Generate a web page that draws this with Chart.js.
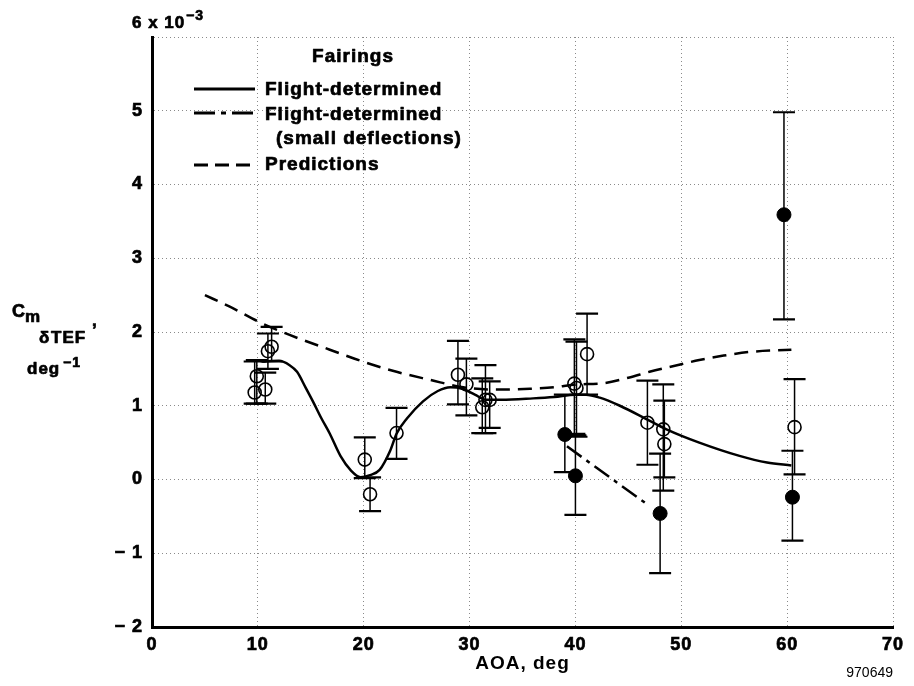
<!DOCTYPE html>
<html><head><meta charset="utf-8">
<script src="https://cdn.jsdelivr.net/npm/chart.js@4.4.1/dist/chart.umd.min.js"></script>
<style>html,body{margin:0;padding:0;background:#fff;}canvas{display:block;}</style>
</head><body>
<canvas id="c" width="914" height="686"></canvas>
<script>
// ---- data ----
const xTicks = [0, 10, 20, 30, 40, 50, 60, 70];
const yTicks = [-2, -1, 0, 1, 2, 3, 4, 5, 6];

// Flight-determined fit (solid)
const fitX = [10.4, 12.0, 13.0, 13.7, 14.5, 15.2, 16.0, 16.8, 17.8, 18.8, 19.7, 20.6, 21.5, 22.5, 23.1, 24.1, 25.6, 27.0, 28.2, 29.3, 30.5, 31.6, 33, 36, 38, 40, 41, 42.3, 44.2, 46.7, 48.6, 51.7, 55.5, 58.1, 60.4];
const fitY = [1.60, 1.61, 1.55, 1.46, 1.25, 1.06, 0.83, 0.62, 0.32, 0.12, 0.03, 0.06, 0.13, 0.39, 0.62, 0.83, 1.06, 1.20, 1.25, 1.23, 1.15, 1.08, 1.08, 1.10, 1.12, 1.15, 1.15, 1.11, 1.00, 0.82, 0.68, 0.50, 0.32, 0.23, 0.19];

// Flight-determined, small deflections fit (dash-dot)
const smallX = [39.2, 47.0];
const smallY = [0.45, -0.36];

// Predictions (dashed)
const predX = [5, 7.4, 10.5, 13, 16.8, 19.9, 23.1, 26.3, 29.4, 32.6, 35.7, 38, 40.1, 42.3, 45, 47, 49.9, 51.7, 54, 56.5, 60.4];
const predY = [2.50, 2.34, 2.11, 1.96, 1.76, 1.60, 1.46, 1.35, 1.25, 1.22, 1.23, 1.25, 1.29, 1.30, 1.38, 1.46, 1.56, 1.62, 1.68, 1.73, 1.76];

// Open symbols (fairings, flight-determined) with error bars
const openX  = [9.7, 9.9, 10.7, 10.95, 11.3, 20.1, 20.6, 23.1, 28.9, 29.7, 31.2, 31.5, 31.9, 39.9, 40.1, 41.1, 46.8, 48.3, 48.4, 60.7];
const openY  = [1.18, 1.40, 1.22, 1.74, 1.80, 0.27, -0.20, 0.63, 1.42, 1.29, 0.98, 1.08, 1.08, 1.30, 1.24, 1.70, 0.77, 0.68, 0.48, 0.71];
const openLo = [1.03, 1.03, 1.03, 1.50, 1.60, 0.02, -0.43, 0.28, 1.02, 0.87, 0.63, 0.63, 0.70, 0.62, 0.58, 1.15, 0.20, -0.15, 0.03, 0.07];
const openHi = [1.60, 1.62, 1.45, 1.98, 2.07, 0.57, 0.03, 0.97, 1.88, 1.64, 1.37, 1.55, 1.33, 1.90, 1.87, 2.25, 1.34, 1.29, 1.07, 1.36];

// Filled symbols (small deflections) with error bars
const fillX  = [39.0, 40.0, 48.0, 59.7, 60.5];
const fillY  = [0.61, 0.05, -0.46, 3.59, -0.24];
const fillLo = [0.10, -0.48, -1.27, 2.17, -0.83];
const fillHi = [1.15, 0.60, 0.35, 4.98, 0.39];

const FONT = "'Liberation Sans', Arial, Helvetica, sans-serif";
const pts = (xs, ys) => xs.map((v, i) => ({x: v, y: ys[i]}));

const errorBars = {
  id: 'errorBars',
  beforeDraw(chart) { chart.ctx.letterSpacing = '1px'; },
  afterDatasetsDraw(chart) {
    const {ctx, scales: {x, y}} = chart;
    ctx.save();
    ctx.strokeStyle = '#000';
    const draw = (xs, lo, hi) => {
      for (let i = 0; i < xs.length; i++) {
        const px = x.getPixelForValue(xs[i]);
        const pl = y.getPixelForValue(lo[i]);
        const ph = y.getPixelForValue(hi[i]);
        ctx.lineWidth = 1.5;
        ctx.beginPath(); ctx.moveTo(px, pl); ctx.lineTo(px, ph); ctx.stroke();
        ctx.lineWidth = 2.2;
        ctx.beginPath();
        ctx.moveTo(px - 11, pl); ctx.lineTo(px + 11, pl);
        ctx.moveTo(px - 11, ph); ctx.lineTo(px + 11, ph);
        ctx.stroke();
      }
    };
    draw(openX, openLo, openHi);
    draw(fillX, fillLo, fillHi);
    ctx.restore();
  },
  afterDraw(chart) {
    const ctx = chart.ctx;
    ctx.save();
    ctx.fillStyle = '#000';
    ctx.strokeStyle = '#000';
    ctx.lineWidth = 0.7;
    ctx.lineJoin = 'round';
    ctx.textBaseline = 'alphabetic';
    ctx.textAlign = 'left';
    ctx.letterSpacing = '1px';
    const t = (s, x, y, size, weight) => {
      ctx.font = (weight || 'bold') + ' ' + size + 'px ' + FONT;
      ctx.fillText(s, x, y);
      if (!weight) ctx.strokeText(s, x, y);
    };

    // axis multiplier
    t('6 x 10', 132, 28, 17);
    t('\u22123', 186, 20, 14);

    // y-axis title
    t('C', 12, 317, 18);
    t('m', 25, 322, 17);
    t('\u03b4', 39, 343, 17);
    t('TEF', 51, 343, 17);
    t(',', 92, 326, 17);
    t('deg', 27, 374, 17);
    t('\u22121', 63, 367, 14);

    // legend
    ctx.textAlign = 'center';
    t('Fairings', 353, 62, 19);
    ctx.textAlign = 'left';
    t('Flight-determined', 265, 95, 19);
    t('Flight-determined', 265, 120, 19);
    t('(small deflections)', 276, 144, 19);
    t('Predictions', 265, 170, 19);
    ctx.lineWidth = 3;
    const seg = (y, dash) => { ctx.setLineDash(dash); ctx.beginPath(); ctx.moveTo(194, y); ctx.lineTo(255, y); ctx.stroke(); };
    seg(89, []);
    seg(113, [21, 6, 5, 6]);
    seg(165, [14, 7]);
    ctx.setLineDash([]);

    // figure number
    ctx.textAlign = 'right';
    ctx.letterSpacing = '0px';
    t('970649', 893, 677, 14, 'normal');
    ctx.restore();
  }
};

new Chart(document.getElementById('c'), {
  type: 'scatter',
  data: {
    datasets: [
      { type: 'line', label: 'Flight-determined', data: pts(fitX, fitY), borderColor: '#000', borderWidth: 2.5,
        pointRadius: 0, fill: false, cubicInterpolationMode: 'monotone' },
      { type: 'line', label: 'Flight-determined (small deflections)', data: pts(smallX, smallY), borderColor: '#000', borderWidth: 2.5,
        borderDash: [18, 6, 4, 6], pointRadius: 0, fill: false },
      { type: 'line', label: 'Predictions', data: pts(predX, predY), borderColor: '#000', borderWidth: 2.5,
        borderDash: [14, 8], pointRadius: 0, fill: false, cubicInterpolationMode: 'monotone' },
      { label: 'Fairings', data: pts(openX, openY), pointRadius: 6.5, pointBorderWidth: 1.6,
        borderColor: '#000', backgroundColor: 'rgba(0,0,0,0)', pointStyle: 'circle' },
      { label: 'Fairings (small deflections)', data: pts(fillX, fillY), pointRadius: 7, pointBorderWidth: 1,
        borderColor: '#000', backgroundColor: '#000', pointStyle: 'circle' }
    ]
  },
  options: {
    responsive: false,
    animation: false,
    devicePixelRatio: 1,
    layout: { padding: { left: 0, right: 21, top: 37, bottom: 0 } },
    plugins: { legend: { display: false }, tooltip: { enabled: false } },
    scales: {
      x: {
        type: 'linear', min: 0, max: 70,
        afterFit(s) { s.height = 59; },
        afterBuildTicks(s) { s.ticks = xTicks.map(v => ({value: v})); },
        ticks: { color: '#000', padding: 7, font: { family: FONT, size: 18, weight: 'bold' }, maxRotation: 0,
          textStrokeColor: '#000', textStrokeWidth: 0.7 },
        grid: { color: '#8a8a8a', lineWidth: 1, drawTicks: false },
        border: { display: true, color: '#000', width: 3, dash: [1, 3] },
        title: { display: true, text: 'AOA, deg', color: '#000', font: { family: FONT, size: 19, weight: 'bold' }, padding: { top: 0, bottom: 11 } }
      },
      y: {
        type: 'linear', min: -2, max: 6,
        afterFit(s) { s.width = 152; },
        afterBuildTicks(s) { s.ticks = yTicks.map(v => ({value: v})); },
        ticks: { color: '#000', padding: 9, font: { family: FONT, size: 18, weight: 'bold' },
          textStrokeColor: '#000', textStrokeWidth: 0.7,
          callback: v => v === 6 ? '' : (v < 0 ? '\u2212 ' + Math.abs(v) : String(v)) },
        grid: { color: '#8a8a8a', lineWidth: 1, drawTicks: false },
        border: { display: true, color: '#000', width: 3, dash: [1, 3] }
      }
    }
  },
  plugins: [errorBars]
});
</script>
</body></html>
